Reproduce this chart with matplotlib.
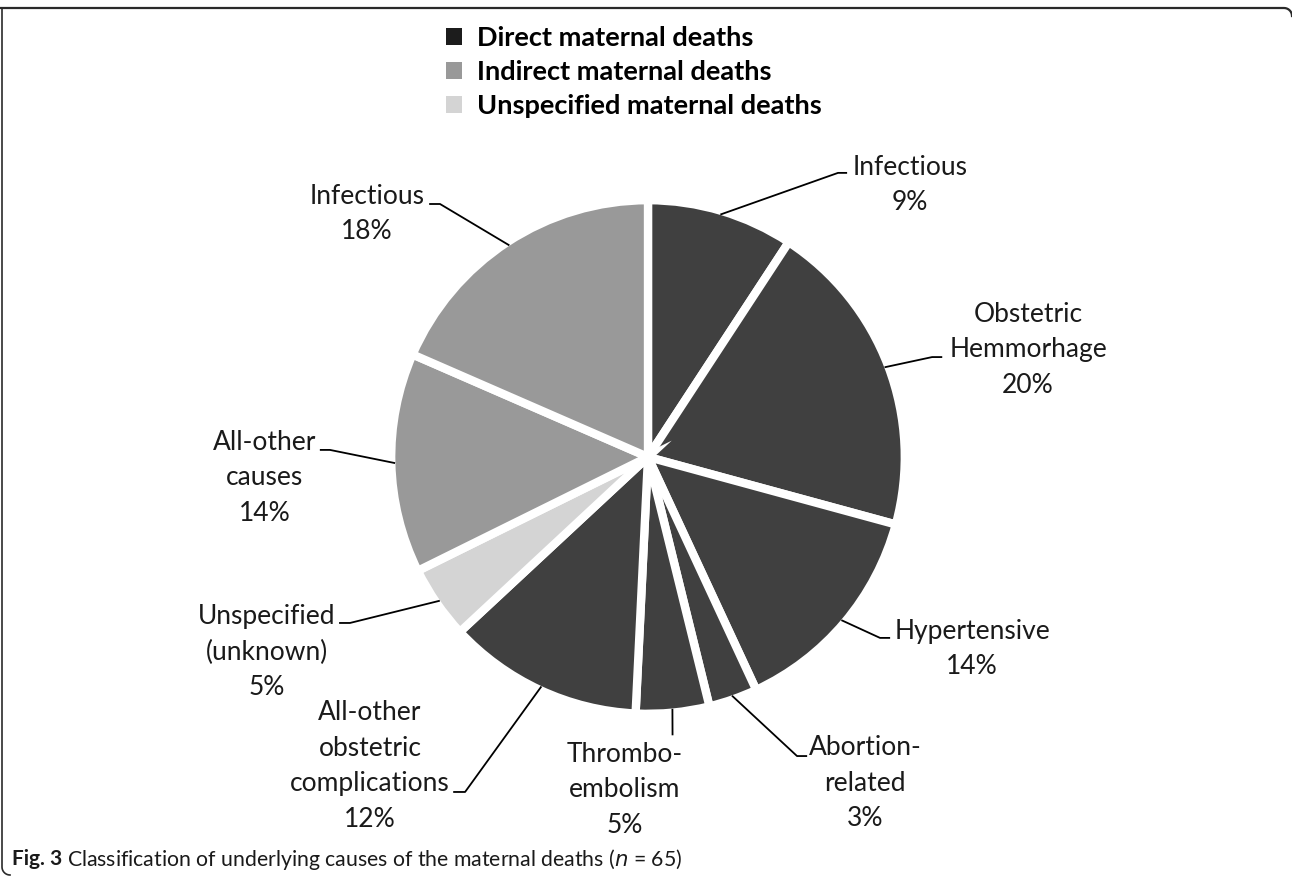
import numpy as np
import matplotlib
matplotlib.use("Agg")
import matplotlib.pyplot as plt
from matplotlib.patches import Patch
from matplotlib.lines import Line2D

# ---------------------------------------------
# DATA (n = 65 maternal deaths)
# ---------------------------------------------
causes = ["Infectious", "Obstetric\nHemmorhage", "Hypertensive", "Abortion-\nrelated",
          "Thrombo-\nembolism", "All-other\nobstetric\ncomplications", "Unspecified\n(unknown)",
          "All-other\ncauses", "Infectious"]
counts = [6, 13, 9, 2, 3, 8, 3, 9, 12]
percent_labels = ["9%", "20%", "14%", "3%", "5%", "12%", "5%", "14%", "18%"]
groups = ["Direct", "Direct", "Direct", "Direct", "Direct", "Direct", "Unspecified", "Indirect", "Indirect"]

legend_names = ["Direct maternal deaths", "Indirect maternal deaths", "Unspecified maternal deaths"]

# ---------------------------------------------
# STYLE / LAYOUT
# ---------------------------------------------
slice_col = {"Direct": "#404040", "Indirect": "#999999", "Unspecified": "#d4d4d4"}
legend_col = ["#1c1c1c", "#999999", "#d4d4d4"]

# label centre and leader elbow, in pie units (radius 1)
label_xy = [(1.036, 1.075), (1.502, 0.423), (1.281, -0.759), (0.858, -1.289), (-0.091, -1.316),
            (-1.099, -1.221), (-1.506, -0.771), (-1.514, -0.083), (-1.111, 0.960)]
elbow_xy = [(0.751, 1.123), (1.123, 0.395), (0.917, -0.715), (0.589, -1.182), (0.097, -1.10),
            (-0.723, -1.324), (-1.178, -0.656), (-1.257, 0.028), (-0.822, 1.0)]
elbow_dx = [0.036, 0.04, 0.04, 0.04, 0.0, -0.047, -0.043, -0.04, -0.043]

W, H = 1292, 877
cx, cy, R = 648, 457, 253

plt.rcParams['font.family'] = ['Lato', 'DejaVu Sans']

fig = plt.figure(figsize=(W / 100, H / 100), dpi=100)
ax = fig.add_axes([0, 0, 1, 1])
ax.axis('off')

colors = [slice_col[g] for g in groups]
wedges, _ = ax.pie(counts, colors=colors, startangle=90, counterclock=False, radius=1.015,
                   wedgeprops=dict(edgecolor='white', linewidth=6))

ax.set_xlim(-cx / R, (W - cx) / R)
ax.set_ylim((cy - H) / R, cy / R)
ax.set_aspect('auto')

for i, w in enumerate(wedges):
    ang = np.deg2rad((w.theta1 + w.theta2) / 2)
    x0, y0 = np.cos(ang), np.sin(ang)
    ex, ey = elbow_xy[i]
    ax.plot([x0, ex, ex + elbow_dx[i]], [y0, ey, ey], color='black', lw=1.3, solid_capstyle='butt')
    lx, ly = label_xy[i]
    ax.text(lx, ly, causes[i] + "\n" + percent_labels[i], ha='center', va='center',
            fontsize=19, color='#1a1a1a', linespacing=1.52)

handles = [Patch(facecolor=c, edgecolor='none') for c in legend_col]
fig.legend(handles, legend_names, loc='upper left', bbox_to_anchor=(446 / W, 1 - 26 / H),
           frameon=False, prop=dict(weight='bold', size=19.5), handlelength=0.6, handleheight=0.6,
           handletextpad=0.55, labelspacing=0.37, borderaxespad=0, borderpad=0)

# page frame: top edge with rounded right corner, left edge with rounded bottom corner
t = np.linspace(0, np.pi / 2, 10)
top_x = np.r_[0, 1284 + 8 * np.sin(t)]
top_y = np.r_[8, 16 - 8 * np.cos(t)]
left_x = np.r_[2, 2, 10 - 8 * np.cos(t)]
left_y = np.r_[8, 867, 867 + 8 * np.sin(t)]
fig.add_artist(Line2D(top_x / W, 1 - top_y / H, transform=fig.transFigure, color='#2a2a2a', lw=1.6))
fig.add_artist(Line2D(left_x / W, 1 - left_y / H, transform=fig.transFigure, color='#2a2a2a', lw=1.2))

# caption
t1 = fig.text(12 / W, 1 - 859 / H, "Fig. 3", fontsize=15, weight='bold', va='center', color='#1a1a1a')
fig.canvas.draw()
bb = t1.get_window_extent()
fig.text(bb.x1 / W + 5 / W, 1 - 859 / H, "Classification of underlying causes of the maternal deaths ($n$ = 65)",
         fontsize=15.3, va='center', color='#1a1a1a')

fig.savefig("out.png", dpi=100)
